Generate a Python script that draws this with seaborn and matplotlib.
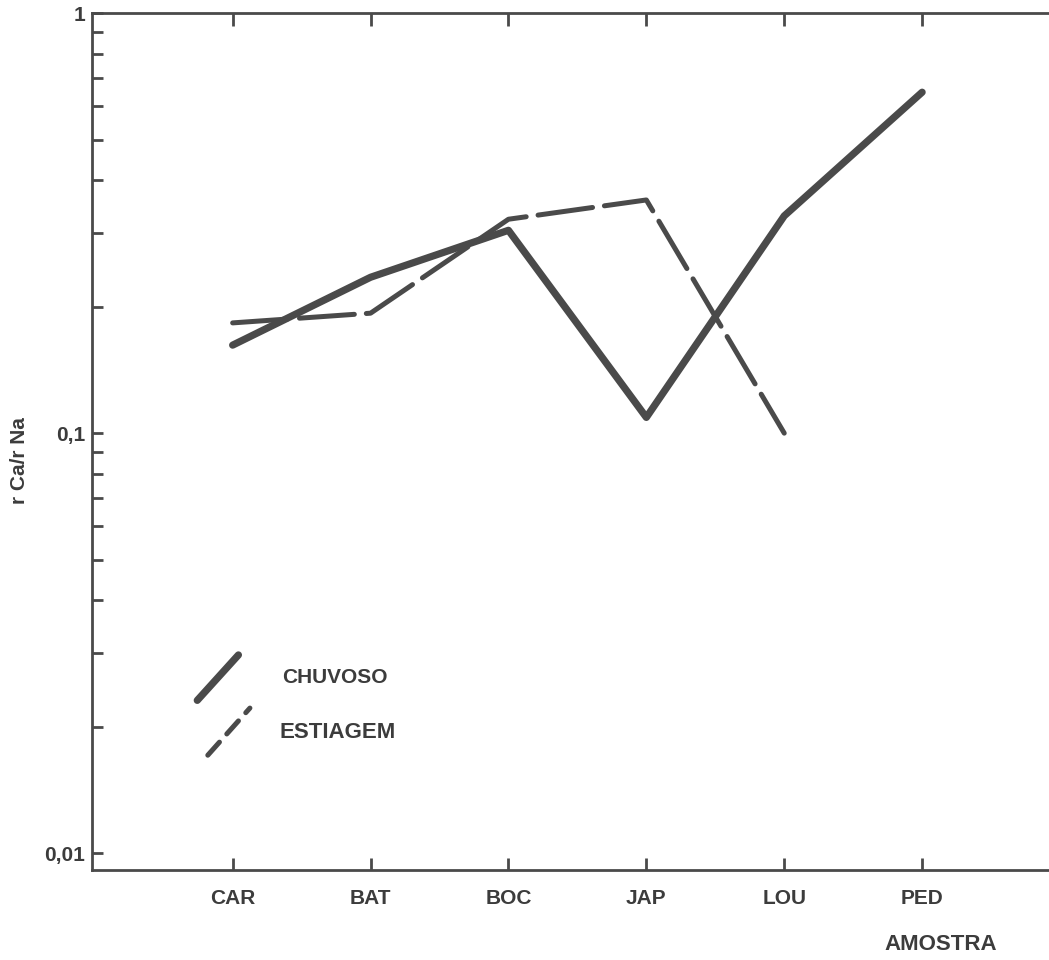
import matplotlib
matplotlib.use("Agg")
import matplotlib.pyplot as plt
from matplotlib.ticker import FixedLocator, LogLocator, NullFormatter
import numpy as np
import pandas as pd
import seaborn as sns

# Sampling sites and the rCa/rNa ratio for the two seasons
amostras = ["CAR", "BAT", "BOC", "JAP", "LOU", "PED"]
chuvoso = [0.162, 0.235, 0.304, 0.109, 0.329, 0.648]
estiagem = [0.183, 0.193, 0.323, 0.359, 0.100, np.nan]

y_ticks = [0.01, 0.1, 1]
y_tick_labels = ["0,01", "0,1", "1"]

ink = "#4a4a4a"
text_ink = "#3c3c3c"

sns.set_theme(style="white")
plt.rcParams["font.family"] = ["Liberation Sans", "DejaVu Sans"]

df = pd.DataFrame({
    "pos": list(range(len(amostras))) * 2,
    "ratio": chuvoso + estiagem,
    "periodo": ["CHUVOSO"] * len(amostras) + ["ESTIAGEM"] * len(amostras),
})

fig = plt.figure(figsize=(10.49, 9.6), dpi=100)
ax = fig.add_axes([0.0877, 0.0937, 0.9123, 0.8927])

wet = df[df.periodo == "CHUVOSO"]
dry = df[df.periodo == "ESTIAGEM"]

sns.lineplot(data=wet, x="pos", y="ratio", ax=ax,
             color=ink, linewidth=5.2, solid_capstyle="round",
             solid_joinstyle="round", legend=False)
sns.lineplot(data=dry, x="pos", y="ratio", ax=ax, style="periodo",
             color=ink, linewidth=3.6, dashes=[(11, 2.4)], legend=False)
for ln in ax.get_lines()[1:]:
    ln.set_dash_capstyle("round")

ax.set_yscale("log")
ax.set_ylim(0.00912, 1.0)
ax.set_xlim(-1.02, 5.92)

ax.yaxis.set_major_locator(FixedLocator(y_ticks))
ax.set_yticklabels(y_tick_labels)
ax.yaxis.set_minor_locator(LogLocator(base=10, subs=np.arange(2, 10), numticks=10))
ax.yaxis.set_minor_formatter(NullFormatter())

ax.set_xticks(range(len(amostras)))
ax.set_xticklabels(amostras)

ax.tick_params(axis="y", which="both", direction="in", length=8, width=2,
               color=ink, left=True, right=False, pad=5,
               labelsize=15, labelcolor=text_ink)
ax.tick_params(axis="x", which="major", direction="in", length=9, width=2,
               color=ink, bottom=True, top=True, pad=14,
               labelsize=15, labelcolor=text_ink)
for lbl in ax.get_xticklabels() + ax.get_yticklabels():
    lbl.set_fontweight("bold")

for side in ["left", "top", "bottom"]:
    ax.spines[side].set_color(ink)
    ax.spines[side].set_linewidth(2)
ax.spines["right"].set_visible(False)

ax.set_xlabel("")
ax.set_ylabel("")
fig.text(0.019, 0.52, "r Ca/r Na", rotation=90, ha="center", va="center",
         fontsize=15, fontweight="bold", color=text_ink)
fig.text(0.897, 0.016, "AMOSTRA", ha="center", va="center",
         fontsize=16, fontweight="bold", color=text_ink)

# Key with slanted line samples
ax.plot([0.110, 0.153], [0.198, 0.251], transform=ax.transAxes, color=ink,
        linewidth=5.2, solid_capstyle="round")
ax.plot([0.121, 0.165], [0.134, 0.189], transform=ax.transAxes, color=ink,
        linewidth=3.6, linestyle=(0, (3.5, 2.2)), dash_capstyle="round")
ax.text(0.199, 0.225, "CHUVOSO", transform=ax.transAxes, ha="left",
        va="center", fontsize=15, fontweight="bold", color=text_ink)
ax.text(0.196, 0.160, "ESTIAGEM", transform=ax.transAxes, ha="left",
        va="center", fontsize=16, fontweight="bold", color=text_ink)

fig.savefig("out.png", dpi=100, facecolor="white")
